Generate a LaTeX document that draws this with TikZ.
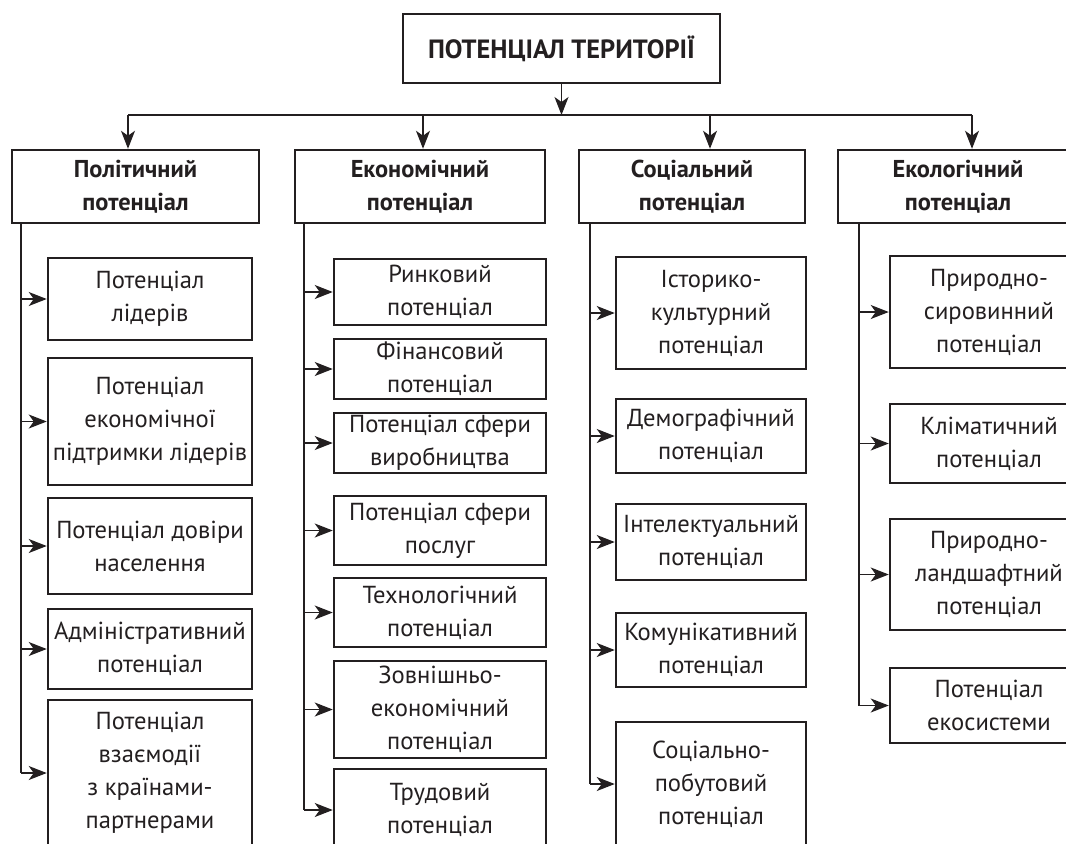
\documentclass[tikz,border=0pt]{standalone}
\usepackage{fontspec}
\setmainfont{PT Sans}
\usetikzlibrary{arrows.meta}
\definecolor{ink}{RGB}{35,31,32}

\begin{document}
\begin{tikzpicture}[x=0.5pt,y=-0.5pt,
  box/.style={draw=ink,line width=1.25pt,text=ink,align=center,inner sep=0pt,
    font=\fontsize{12.3}{16.5}\selectfont},
  head/.style={box,font=\fontsize{12.2}{16.5}\selectfont\bfseries,minimum height=36.5pt},
  colA/.style={box,minimum width=102pt},
  colB/.style={box,minimum width=106pt},
  colC/.style={box,minimum width=95pt},
  colD/.style={box,minimum width=99pt},
  link/.style={draw=ink,line width=0.65pt},
  arr/.style={link,-{Stealth[length=9pt,width=7pt,inset=2.5pt]}}]

\useasboundingbox (0,0) rectangle (1066,843);
\clip (0,0) rectangle (1066,843);

\node[head,minimum width=158.5pt,minimum height=34.5pt,font=\fontsize{13.2}{16.5}\selectfont\bfseries] (top) at (561.5,48.5) {ПОТЕНЦІАЛ ТЕРИТОРІЇ};

\node[head,minimum width=123.5pt] (h1) at (135.5,186.5) {Політичний\\потенціал};
\node[head,minimum width=125pt] (h2) at (420,186.5) {Економічний\\потенціал};
\node[head,minimum width=113pt] (h3) at (692,186.5) {Соціальний\\потенціал};
\node[head,minimum width=120pt] (h4) at (958,186.5) {Екологічний\\потенціал};

% bus
\coordinate (k1) at (128,115);
\coordinate (k2) at (423,115);
\coordinate (k3) at (710,115);
\coordinate (k4) at (972,115);
\draw[link] (k1) -- (k4);
\draw[arr] (top.south) -- (top.south |- k1);
\draw[arr] (k1) -- (k1 |- h1.north);
\draw[arr] (k2) -- (k2 |- h2.north);
\draw[arr] (k3) -- (k3 |- h3.north);
\draw[arr] (k4) -- (k4 |- h4.north);

% political
\node[colA,minimum height=41pt] (a1) at (150,299) {Потенціал\\лідерів};
\node[colA,minimum height=63.5pt] (a2) at (150,421.5) {Потенціал\\економічної\\підтримки лідерів};
\node[colA,minimum height=48pt] (a3) at (150,546) {Потенціал довіри\\населення};
\node[colA,minimum height=40pt] (a4) at (150,649) {Адміністративний\\потенціал};
\node[colA,minimum height=73pt] (a5) at (150,773) {Потенціал\\взаємодії\\з країнами-\\партнерами};

% economic
\node[colB,minimum height=33pt] (b1) at (440,292) {Ринковий\\потенціал};
\node[colB,minimum height=30pt] (b2) at (440,369) {Фінансовий\\потенціал};
\node[colB,minimum height=30pt] (b3) at (440,443) {Потенціал сфери\\виробництва};
\node[colB,minimum height=34.5pt] (b4) at (440,530.5) {Потенціал сфери\\послуг};
\node[colB,minimum height=34.5pt] (b5) at (440,612.5) {Технологічний\\потенціал};
\node[colB,minimum height=48.5pt] (b6) at (440,709.5) {Зовнішньо-\\економічний\\потенціал};
\node[colB,minimum height=41pt] (b7) at (440,810) {Трудовий\\потенціал};

% social
\node[colC,minimum height=56pt] (c1) at (711,313) {Історико-\\культурний\\потенціал};
\node[colC,minimum height=37pt] (c2) at (711,436) {Демографічний\\потенціал};
\node[colC,minimum height=38pt] (c3) at (711,542) {Інтелектуальний\\потенціал};
\node[colC,minimum height=37pt] (c4) at (711,650) {Комунікативний\\потенціал};
\node[colC,minimum height=62pt] (c5) at (711,784) {Соціально-\\побутовий\\потенціал};

% ecological
\node[colD,minimum height=56pt] (d1) at (989,312) {Природно-\\сировинний\\потенціал};
\node[colD,minimum height=39.5pt] (d2) at (989,443.5) {Кліматичний\\потенціал};
\node[colD,minimum height=55.5pt] (d3) at (989,574.5) {Природно-\\ландшафтний\\потенціал};
\node[colD,minimum height=37.5pt] (d4) at (989,705.5) {Потенціал\\екосистеми};

% trunks
\coordinate (t1) at (21,223);
\coordinate (t2) at (304,223);
\coordinate (t3) at (590,223);
\coordinate (t4) at (859,223);
\draw[link] (t1) -- (t1 |- a5.west);
\draw[link] (t2) -- (t2 |- b7.west);
\draw[link] (t3) -- (t3 |- c5.west);
\draw[link] (t4) -- (t4 |- d4.west);

\draw[arr] (t1 |- a1.west) -- (a1.west);
\draw[arr] (t1 |- a2.west) -- (a2.west);
\draw[arr] (t1 |- a3.west) -- (a3.west);
\draw[arr] (t1 |- a4.west) -- (a4.west);
\draw[arr] (t1 |- a5.west) -- (a5.west);

\draw[arr] (t2 |- b1.west) -- (b1.west);
\draw[arr] (t2 |- b2.west) -- (b2.west);
\draw[arr] (t2 |- b3.west) -- (b3.west);
\draw[arr] (t2 |- b4.west) -- (b4.west);
\draw[arr] (t2 |- b5.west) -- (b5.west);
\draw[arr] (t2 |- b6.west) -- (b6.west);
\draw[arr] (t2 |- b7.west) -- (b7.west);

\draw[arr] (t3 |- c1.west) -- (c1.west);
\draw[arr] (t3 |- c2.west) -- (c2.west);
\draw[arr] (t3 |- c3.west) -- (c3.west);
\draw[arr] (t3 |- c4.west) -- (c4.west);
\draw[arr] (t3 |- c5.west) -- (c5.west);

\draw[arr] (t4 |- d1.west) -- (d1.west);
\draw[arr] (t4 |- d2.west) -- (d2.west);
\draw[arr] (t4 |- d3.west) -- (d3.west);
\draw[arr] (t4 |- d4.west) -- (d4.west);
\end{tikzpicture}
\end{document}
